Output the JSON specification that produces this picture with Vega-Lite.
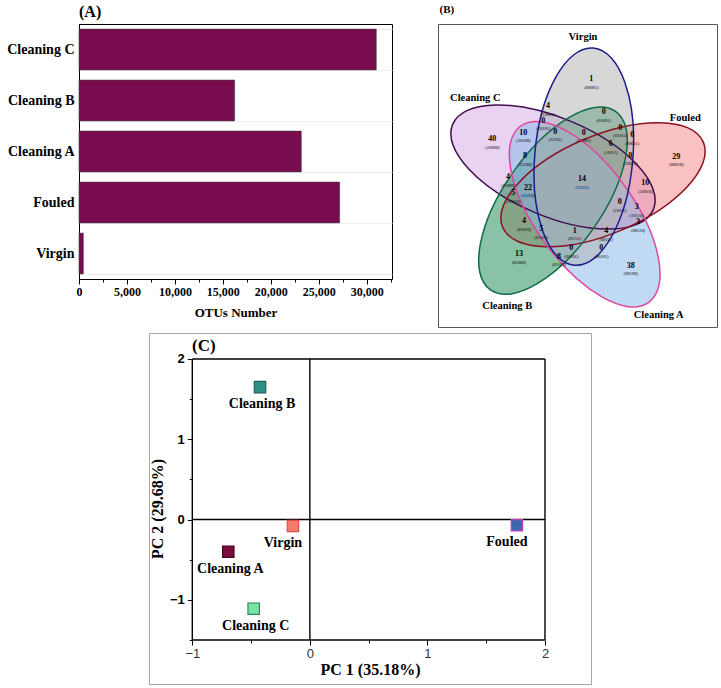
{
 "$schema": "https://vega.github.io/schema/vega-lite/v6.json",
 "background": "white",
 "padding": {"left": 6, "top": 3, "right": 2, "bottom": 2},
 "config": {"font": "Liberation Serif", "view": {"stroke": "black", "strokeWidth": 1}, "axis": {"labelFont": "Liberation Serif", "titleFont": "Liberation Serif"}, "title": {"font": "Liberation Serif", "color": "black"}, "text": {"font": "Liberation Serif"}},
 "datasets": {
  "regions": [
   {"n": "1", "code": "(00001)", "x": 153.3, "y": 59},
   {"n": "0", "code": "(01001)", "x": 165.7, "y": 92},
   {"n": "4", "code": "(10001)", "x": 110, "y": 86},
   {"n": "0", "code": "(10101)", "x": 105.3, "y": 100.7},
   {"n": "0", "code": "(11101)", "x": 117.3, "y": 111.7},
   {"n": "0", "code": "(11001)", "x": 145.7, "y": 112.7},
   {"n": "0", "code": "(01011)", "x": 182.3, "y": 107.7},
   {"n": "0", "code": "(00011)", "x": 194.3, "y": 115.3},
   {"n": "6", "code": "(11011)", "x": 172.7, "y": 124.3},
   {"n": "0", "code": "(10011)", "x": 192.3, "y": 135.7},
   {"n": "29", "code": "(00010)", "x": 238.3, "y": 136.7},
   {"n": "40", "code": "(10000)", "x": 54.3, "y": 119.3},
   {"n": "10", "code": "(10100)", "x": 85.3, "y": 112.7},
   {"n": "8", "code": "(11100)", "x": 87, "y": 136},
   {"n": "14", "code": "(11111)", "x": 144, "y": 159.3},
   {"n": "4", "code": "(11000)", "x": 70, "y": 157.3},
   {"n": "22", "code": "(11110)", "x": 90, "y": 167.7},
   {"n": "5", "code": "(11010)", "x": 75.3, "y": 173.3},
   {"n": "10", "code": "(10010)", "x": 207.3, "y": 163},
   {"n": "0", "code": "(10111)", "x": 181.7, "y": 182.3},
   {"n": "3", "code": "(10110)", "x": 198.7, "y": 187.3},
   {"n": "3", "code": "(00110)", "x": 200, "y": 202.3},
   {"n": "4", "code": "(01010)", "x": 86, "y": 201.3},
   {"n": "5", "code": "(01110)", "x": 103.3, "y": 209},
   {"n": "1", "code": "(01111)", "x": 136.7, "y": 210.7},
   {"n": "4", "code": "(00111)", "x": 168.3, "y": 211},
   {"n": "0", "code": "(01101)", "x": 133.3, "y": 228.3},
   {"n": "0", "code": "(00101)", "x": 163.3, "y": 228.3},
   {"n": "8", "code": "(01100)", "x": 121, "y": 236.7},
   {"n": "13", "code": "(01000)", "x": 81, "y": 234},
   {"n": "38", "code": "(00100)", "x": 192.7, "y": 245.7}
  ],
  "ellipses": [
   {"set": "Cleaning C", "x": 115, "y": 147},
   {"set": "Fouled", "x": 165, "y": 164.7},
   {"set": "Cleaning B", "x": 115, "y": 180.7},
   {"set": "Cleaning A", "x": 146.7, "y": 194.2},
   {"set": "Virgin", "x": 145.8, "y": 136.7}
  ],
  "setlabels": [
   {"set": "Virgin", "x": 145, "y": 17.3},
   {"set": "Cleaning C", "x": 37.3, "y": 78.3},
   {"set": "Fouled", "x": 247.3, "y": 97.7},
   {"set": "Cleaning B", "x": 69.3, "y": 286},
   {"set": "Cleaning A", "x": 220.7, "y": 294.5}
  ],
  "paneltag": [
   {"tag": "(B)", "x": 1.5, "y": -10}
  ],
  "pca": [
   {"sample": "Cleaning B", "pc1": -0.424, "pc2": 1.65},
   {"sample": "Virgin", "pc1": -0.144, "pc2": -0.08},
   {"sample": "Cleaning A", "pc1": -0.694, "pc2": -0.4},
   {"sample": "Cleaning C", "pc1": -0.478, "pc2": -1.11},
   {"sample": "Fouled", "pc1": 1.761, "pc2": -0.071}
  ],
  "frame": [
   {"x": -1, "x2": -1, "y": -1.5, "y2": 2},
   {"x": 2, "x2": 2, "y": -1.5, "y2": 2},
   {"x": -1, "x2": 2, "y": 2, "y2": 2},
   {"x": -1, "x2": 2, "y": -1.5, "y2": -1.5},
   {"x": 0, "x2": 0, "y": -1.5, "y2": 2},
   {"x": -1, "x2": 2, "y": 0, "y2": 0}
  ]
 },
 "spacing": 4,
 "resolve": {"scale": {"fill": "independent", "stroke": "independent", "angle": "independent"}},
 "vconcat": [
  {
   "spacing": 44,
   "resolve": {"scale": {"fill": "independent", "stroke": "independent", "angle": "independent"}},
   "hconcat": [
    {
     "width": 313, "height": 255,
     "title": {"text": "(A)", "anchor": "start", "frame": "group", "fontSize": 16, "fontWeight": "bold", "offset": -3},
     "data": {"values": [
      {"sample": "Cleaning C", "otus": 31000},
      {"sample": "Cleaning B", "otus": 16230},
      {"sample": "Cleaning A", "otus": 23180},
      {"sample": "Fouled", "otus": 27180},
      {"sample": "Virgin", "otus": 450}
     ]},
     "encoding": {
      "y": {"field": "sample", "type": "nominal", "sort": ["Cleaning C", "Cleaning B", "Cleaning A", "Fouled", "Virgin"],
            "scale": {"paddingInner": 0.2, "paddingOuter": 0.1},
            "axis": {"title": null, "labelFontSize": 14, "labelFontWeight": "bold", "labelColor": "black", "ticks": false, "tickSize": 0, "labelPadding": 5, "domainColor": "black", "grid": true, "gridColor": "#eeeeee", "tickBand": "extent"}}
     },
     "layer": [
      {"mark": {"type": "bar", "fill": "#790b4f", "stroke": "#404040", "strokeWidth": 0.6},
       "encoding": {"x": {"field": "otus", "type": "quantitative", "scale": {"domain": [0, 32640], "nice": false},
         "axis": {"orient": "bottom", "title": "OTUs Number", "values": [0, 5000, 10000, 15000, 20000, 25000, 30000], "format": ",d", "labelFontSize": 12, "labelFontWeight": "bold", "labelColor": "black", "labelPadding": 2, "tickSize": 5, "tickColor": "black", "domainColor": "black", "grid": false, "titleFontSize": 13, "titleFontWeight": "bold", "titleColor": "black", "titlePadding": 9, "labelFlush": false}}}},
      {"mark": {"type": "bar", "opacity": 0},
       "encoding": {"x": {"field": "otus", "type": "quantitative", "scale": {"domain": [0, 32640], "nice": false},
         "axis": {"orient": "bottom", "title": null, "values": [2500, 7500, 12500, 17500, 22500, 27500, 32500], "labels": false, "tickSize": 3, "tickColor": "black", "domain": false, "grid": false}}}}
     ],
     "resolve": {"axis": {"x": "independent"}}
    },
    {
     "width": 279, "height": 303,
     "view": {"stroke": "#555555", "strokeWidth": 1},
     "encoding": {
      "x": {"field": "x", "type": "quantitative", "scale": {"domain": [0, 279], "nice": false, "zero": false}, "axis": null},
      "y": {"field": "y", "type": "quantitative", "scale": {"domain": [4, 307], "nice": false, "zero": false, "reverse": true}, "axis": null}
     },
     "layer": [
      {"data": {"name": "ellipses"},
       "mark": {"type": "point", "clip": true, "shape": "M1,0C1,0.2485,0.5523,0.45,0,0.45C-0.5523,0.45,-1,0.2485,-1,0C-1,-0.2485,-0.5523,-0.45,0,-0.45C0.5523,-0.45,1,-0.2485,1,0Z", "size": 47524, "filled": true, "opacity": 1, "fillOpacity": 0.52, "strokeWidth": 0},
       "encoding": {
        "angle": {"field": "set", "type": "nominal", "scale": {"type": "ordinal", "domain": ["Virgin", "Fouled", "Cleaning A", "Cleaning B", "Cleaning C"], "range": [95, 157, 54, 125, 23]}, "legend": null},
        "fill": {"field": "set", "type": "nominal", "scale": {"domain": ["Virgin", "Fouled", "Cleaning A", "Cleaning B", "Cleaning C"], "range": ["#b3b3b3", "#f38989", "#89b9e9", "#1c8a55", "#d5a9e7"]}, "legend": null}
       }},
      {"data": {"name": "ellipses"},
       "mark": {"type": "point", "clip": true, "shape": "M1,0C1,0.2485,0.5523,0.45,0,0.45C-0.5523,0.45,-1,0.2485,-1,0C-1,-0.2485,-0.5523,-0.45,0,-0.45C0.5523,-0.45,1,-0.2485,1,0Z", "size": 47524, "filled": false, "opacity": 1, "strokeWidth": 1.5},
       "encoding": {
        "angle": {"field": "set", "type": "nominal", "scale": {"type": "ordinal", "domain": ["Virgin", "Fouled", "Cleaning A", "Cleaning B", "Cleaning C"], "range": [95, 157, 54, 125, 23]}, "legend": null},
        "stroke": {"field": "set", "type": "nominal", "scale": {"domain": ["Virgin", "Fouled", "Cleaning A", "Cleaning B", "Cleaning C"], "range": ["#1c1c8c", "#8c1022", "#e0449e", "#0f6b47", "#400d4f"]}, "legend": null}
       }},
      {"data": {"name": "regions"},
       "mark": {"type": "text", "font": "Liberation Serif", "fontSize": 8, "fontWeight": "bold", "align": "center", "baseline": "middle", "color": "black"},
       "encoding": {"text": {"field": "n", "type": "nominal"}}},
      {"data": {"name": "regions"},
       "mark": {"type": "text", "font": "Liberation Serif", "fontSize": 4.5, "fontStyle": "italic", "align": "center", "baseline": "middle", "dy": 8.5, "color": "black"},
       "encoding": {"text": {"field": "code", "type": "nominal"}}},
      {"data": {"name": "setlabels"},
       "mark": {"type": "text", "font": "Liberation Serif", "fontSize": 10.5, "fontWeight": "bold", "align": "center", "baseline": "middle", "color": "black"},
       "encoding": {"text": {"field": "set", "type": "nominal"}}},
      {"data": {"name": "paneltag"},
       "mark": {"type": "text", "font": "Liberation Serif", "fontSize": 11, "fontWeight": "bold", "align": "left", "baseline": "middle", "color": "black"},
       "encoding": {"text": {"field": "tag", "type": "nominal"}}}
     ]
    }
   ]
  },
  {
   "spacing": 10,
   "resolve": {"scale": {"fill": "independent", "stroke": "independent", "angle": "independent"}},
   "hconcat": [
    {"width": 59, "height": 10, "view": {"stroke": null}, "data": {"values": [{"a": 1}]}, "mark": {"type": "point", "opacity": 0}},
    {
     "width": 442, "height": 351,
     "view": {"stroke": "#a6a6a6", "strokeWidth": 1},
     "title": {"text": "(C)", "anchor": "start", "frame": "group", "dx": 43, "offset": -22, "fontSize": 17, "fontWeight": "bold"},
     "layer": [
      {"data": {"name": "frame"},
       "mark": {"type": "rule", "color": "black", "strokeWidth": 1.4},
       "encoding": {
        "x": {"field": "x", "type": "quantitative", "scale": {"domain": [-1.3683, 2.3913], "nice": false, "zero": false}, "axis": null},
        "x2": {"field": "x2"},
        "y": {"field": "y", "type": "quantitative", "scale": {"domain": [-2.048, 2.3238], "nice": false, "zero": false}, "axis": null},
        "y2": {"field": "y2"}
       }},
      {"data": {"name": "pca"},
       "mark": {"type": "square", "size": 130, "opacity": 1, "strokeWidth": 1.2},
       "encoding": {
        "x": {"field": "pc1", "type": "quantitative", "scale": {"domain": [-1.3683, 2.3913], "nice": false, "zero": false},
              "axis": {"orient": "bottom", "offset": -44, "values": [-1, 0, 1, 2], "domain": false, "grid": false, "tickSize": 5, "tickColor": "black", "labelFont": "Liberation Sans", "labelFontSize": 13, "labelColor": "#333333", "labelPadding": 2, "labelFlush": false, "title": "PC 1 (35.18%)", "titleFontSize": 16, "titleFontWeight": "bold", "titleColor": "black", "titlePadding": 1}},
        "y": {"field": "pc2", "type": "quantitative", "scale": {"domain": [-2.048, 2.3238], "nice": false, "zero": false},
              "axis": {"orient": "left", "offset": -43.3, "values": [-1, 0, 1, 2], "domain": false, "grid": false, "tickSize": 5, "tickColor": "black", "labelFont": "Liberation Sans", "labelFontSize": 13, "labelFontWeight": "bold", "labelColor": "black", "labelPadding": 3, "labelFlush": false, "title": "PC 2 (29.68%)", "titleFontSize": 16, "titleFontWeight": "bold", "titleColor": "black", "titlePadding": 4}},
        "fill": {"field": "sample", "type": "nominal", "scale": {"domain": ["Cleaning B", "Virgin", "Cleaning A", "Cleaning C", "Fouled"], "range": ["#2e8f86", "#f27a6e", "#7a0d3d", "#7ce3a6", "#3b66b0"]}, "legend": null},
        "stroke": {"field": "sample", "type": "nominal", "scale": {"domain": ["Cleaning B", "Virgin", "Cleaning A", "Cleaning C", "Fouled"], "range": ["#1f5f5a", "#e0504a", "#4a0525", "#2a8a5a", "#c040c0"]}, "legend": null}
       }},
      {"data": {"name": "pca"},
       "transform": [{"filter": "datum.sample == 'Virgin' || datum.sample == 'Fouled'"}],
       "mark": {"type": "text", "font": "Liberation Serif", "fontSize": 14, "fontWeight": "bold", "align": "center", "baseline": "middle", "dx": -10, "dy": 17, "color": "black"},
       "encoding": {
        "x": {"field": "pc1", "type": "quantitative", "scale": {"domain": [-1.3683, 2.3913], "nice": false, "zero": false}, "axis": null},
        "y": {"field": "pc2", "type": "quantitative", "scale": {"domain": [-2.048, 2.3238], "nice": false, "zero": false}, "axis": null},
        "text": {"field": "sample", "type": "nominal"}
       }},
      {"data": {"name": "pca"},
       "transform": [{"filter": "datum.sample != 'Virgin' && datum.sample != 'Fouled'"}],
       "mark": {"type": "text", "font": "Liberation Serif", "fontSize": 14, "fontWeight": "bold", "align": "center", "baseline": "middle", "dx": 2, "dy": 17, "color": "black"},
       "encoding": {
        "x": {"field": "pc1", "type": "quantitative", "scale": {"domain": [-1.3683, 2.3913], "nice": false, "zero": false}, "axis": null},
        "y": {"field": "pc2", "type": "quantitative", "scale": {"domain": [-2.048, 2.3238], "nice": false, "zero": false}, "axis": null},
        "text": {"field": "sample", "type": "nominal"}
       }},
      {"data": {"name": "pca"},
       "mark": {"type": "point", "opacity": 0},
       "encoding": {
        "x": {"field": "pc1", "type": "quantitative", "scale": {"domain": [-1.3683, 2.3913], "nice": false, "zero": false},
              "axis": {"orient": "bottom", "offset": -44, "values": [-0.5, 0.5, 1.5], "domain": false, "grid": false, "labels": false, "tickSize": 3, "tickColor": "black", "title": null}},
        "y": {"field": "pc2", "type": "quantitative", "scale": {"domain": [-2.048, 2.3238], "nice": false, "zero": false},
              "axis": {"orient": "left", "offset": -43.3, "values": [-1.5, -0.5, 0.5, 1.5], "domain": false, "grid": false, "labels": false, "tickSize": 3, "tickColor": "black", "title": null}}
       }}
     ],
     "resolve": {"axis": {"x": "independent", "y": "independent"}}
    }
   ]
  }
 ]
}
